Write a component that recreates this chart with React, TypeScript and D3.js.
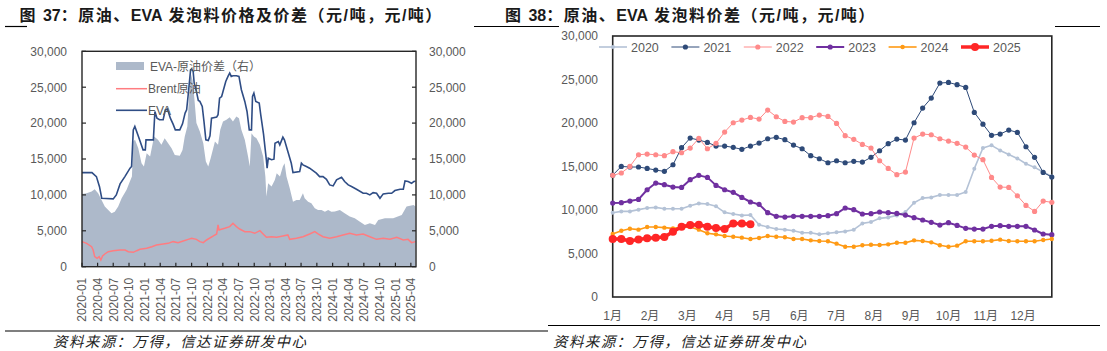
import * as d3 from "d3";
import { useEffect, useRef } from "react";

type Pt = [string, number];

// ---- Figure 37: daily EVA price, Brent (CNY/t) and spread ----
const evaPrice: Pt[] = [
  ["2020-01-01", 13100], ["2020-02-28", 13100], ["2020-03-25", 12550], ["2020-04-12", 11150],
  ["2020-04-25", 9530], ["2020-05-20", 9500], ["2020-07-01", 9440], ["2020-07-19", 10000],
  ["2020-08-10", 11530], ["2020-09-07", 12550], ["2020-10-07", 13720], ["2020-10-16", 13950],
  ["2020-10-26", 19060], ["2020-11-04", 19530], ["2020-11-25", 18130], ["2020-12-22", 16270],
  ["2021-01-04", 16270], ["2021-01-08", 17670], ["2021-02-20", 17670], ["2021-03-01", 21620],
  ["2021-03-13", 20690], ["2021-03-28", 20460], ["2021-04-18", 20460], ["2021-05-01", 21850],
  ["2021-05-13", 21950], ["2021-05-30", 20690], ["2021-06-15", 19850], ["2021-06-28", 19060],
  ["2021-07-24", 19060], ["2021-08-09", 19900], ["2021-08-24", 21390], ["2021-09-02", 21850],
  ["2021-09-11", 23950], ["2021-09-25", 27440], ["2021-10-01", 27530], ["2021-10-10", 27200],
  ["2021-10-16", 25570], ["2021-10-29", 24410], ["2021-11-09", 23160], ["2021-11-18", 23020],
  ["2021-12-02", 22320], ["2021-12-12", 20230], ["2021-12-23", 17670], ["2022-01-06", 17580],
  ["2022-01-16", 18230], ["2022-01-25", 20690], ["2022-02-24", 20830], ["2022-03-04", 21160],
  ["2022-03-13", 23480], ["2022-03-25", 23700], ["2022-04-02", 24400], ["2022-04-18", 25800],
  ["2022-05-01", 26500], ["2022-05-11", 26970], ["2022-05-20", 26500], ["2022-05-30", 26600],
  ["2022-06-19", 26600], ["2022-07-04", 26500], ["2022-07-18", 24650], ["2022-08-07", 23020],
  ["2022-08-20", 21620], ["2022-09-02", 19060], ["2022-09-15", 19060], ["2022-09-21", 23700],
  ["2022-09-29", 24180], ["2022-10-10", 23020], ["2022-10-30", 22800], ["2022-11-08", 21160],
  ["2022-11-24", 18500], ["2022-12-11", 14800], ["2022-12-15", 13720], ["2022-12-22", 15110],
  ["2023-01-10", 14900], ["2023-01-24", 14970], ["2023-01-30", 17200], ["2023-02-18", 17440],
  ["2023-02-27", 16970], ["2023-03-17", 18040], ["2023-03-26", 17670], ["2023-04-15", 16040],
  ["2023-05-05", 14410], ["2023-05-15", 13110], ["2023-06-23", 13250], ["2023-07-03", 14410],
  ["2023-07-12", 14180], ["2023-08-01", 13950], ["2023-08-20", 13720], ["2023-09-28", 13020],
  ["2023-10-17", 12550], ["2023-11-06", 12550], ["2023-11-26", 12180], ["2023-12-15", 11390],
  ["2024-01-04", 11250], ["2024-01-24", 12090], ["2024-02-22", 12460], ["2024-03-11", 11860],
  ["2024-04-01", 11390], ["2024-04-20", 11160], ["2024-05-19", 10790], ["2024-06-27", 10230],
  ["2024-07-16", 10230], ["2024-08-05", 10000], ["2024-08-24", 10320], ["2024-09-13", 10230],
  ["2024-10-03", 9530], ["2024-10-22", 10140], ["2024-11-21", 10230], ["2024-12-10", 10230],
  ["2024-12-29", 10600], ["2025-01-28", 10790], ["2025-02-16", 10790], ["2025-02-26", 11950],
  ["2025-03-16", 11860], ["2025-04-05", 11620], ["2025-04-18", 11860], ["2025-04-28", 11900],
];

const brentPrice: Pt[] = [
  ["2020-01-01", 3490], ["2020-01-28", 3250], ["2020-02-26", 2790], ["2020-03-06", 2320],
  ["2020-03-15", 1400], ["2020-03-29", 1160], ["2020-04-10", 1400], ["2020-04-20", 930],
  ["2020-04-30", 1490], ["2020-05-13", 1770], ["2020-06-02", 2090], ["2020-07-01", 2230],
  ["2020-08-09", 2320], ["2020-09-08", 2320], ["2020-09-27", 2090], ["2020-10-26", 2000],
  ["2020-11-15", 2230], ["2020-12-04", 2420], ["2021-01-12", 2560], ["2021-02-11", 2790],
  ["2021-03-10", 3020], ["2021-04-18", 3160], ["2021-05-17", 3250], ["2021-06-15", 3490],
  ["2021-07-14", 3350], ["2021-08-13", 3580], ["2021-09-11", 3810], ["2021-10-01", 3950],
  ["2021-10-29", 3810], ["2021-11-18", 3490], ["2021-12-08", 3350], ["2021-12-27", 3720],
  ["2022-02-05", 4280], ["2022-02-24", 4560], ["2022-03-04", 5810], ["2022-03-10", 5110],
  ["2022-03-23", 5210], ["2022-04-12", 5350], ["2022-05-11", 5580], ["2022-05-30", 6040],
  ["2022-06-19", 5580], ["2022-07-08", 5250], ["2022-08-07", 4880], ["2022-09-05", 4880],
  ["2022-10-04", 4650], ["2022-11-03", 5020], ["2022-11-22", 4560], ["2022-12-11", 4090],
  ["2023-01-10", 4180], ["2023-02-09", 4090], ["2023-03-17", 4280], ["2023-04-15", 4420],
  ["2023-04-26", 3810], ["2023-06-04", 3950], ["2023-07-12", 4180], ["2023-08-20", 4560],
  ["2023-09-19", 4880], ["2023-10-08", 4560], ["2023-11-06", 4180], ["2023-12-15", 3950],
  ["2024-01-24", 4180], ["2024-03-02", 4420], ["2024-04-10", 4650], ["2024-05-19", 4420],
  ["2024-06-27", 4560], ["2024-08-05", 4180], ["2024-09-13", 3810], ["2024-10-22", 3950],
  ["2024-11-30", 3810], ["2025-01-09", 4090], ["2025-02-16", 3720], ["2025-03-16", 3810],
  ["2025-04-05", 3350], ["2025-04-28", 3490],
];

const evaSpread: Pt[] = [
  ["2020-01-01", 10140], ["2020-01-28", 10230], ["2020-02-26", 10460], ["2020-03-15", 10790],
  ["2020-04-04", 10230], ["2020-04-24", 9300], ["2020-05-13", 8370], ["2020-06-02", 7900],
  ["2020-06-21", 7440], ["2020-07-10", 7670], ["2020-07-30", 8370], ["2020-08-19", 9530],
  ["2020-09-17", 10700], ["2020-10-06", 11860], ["2020-10-18", 12550], ["2020-10-26", 17440],
  ["2020-11-05", 17670], ["2020-11-24", 16510], ["2020-12-13", 14410], ["2020-12-27", 13950],
  ["2021-01-12", 15810], ["2021-02-01", 15340], ["2021-02-24", 18130], ["2021-03-19", 17670],
  ["2021-04-08", 16970], ["2021-04-27", 17900], ["2021-05-17", 17200], ["2021-06-06", 16510],
  ["2021-06-25", 15570], ["2021-07-24", 15440], ["2021-08-09", 16270], ["2021-08-22", 18130],
  ["2021-09-06", 19530], ["2021-09-15", 23250], ["2021-09-25", 26970], ["2021-10-06", 26040],
  ["2021-10-16", 23710], ["2021-10-29", 20000], ["2021-11-18", 18830], ["2021-12-08", 17200],
  ["2021-12-23", 14650], ["2022-01-06", 13950], ["2022-01-20", 15110], ["2022-02-14", 17440],
  ["2022-03-04", 16970], ["2022-03-17", 19060], ["2022-04-02", 20230], ["2022-04-22", 20460],
  ["2022-05-11", 20830], ["2022-05-30", 20230], ["2022-06-19", 20920], ["2022-07-04", 20690],
  ["2022-07-18", 19060], ["2022-08-07", 17670], ["2022-08-26", 15340], ["2022-09-05", 13950],
  ["2022-09-15", 18600], ["2022-09-29", 18130], ["2022-10-14", 17900], ["2022-11-03", 16970],
  ["2022-11-22", 15340], ["2022-12-05", 12550], ["2022-12-11", 9760], ["2022-12-21", 11620],
  ["2023-01-10", 11160], ["2023-01-29", 12090], ["2023-02-09", 13020], ["2023-02-28", 12550],
  ["2023-03-17", 13950], ["2023-03-27", 14410], ["2023-04-07", 12550], ["2023-04-26", 10930],
  ["2023-05-15", 9060], ["2023-06-04", 9300], ["2023-06-23", 9300], ["2023-07-12", 10230],
  ["2023-07-22", 9530], ["2023-08-11", 9060], ["2023-08-30", 8830], ["2023-09-19", 8140],
  ["2023-10-08", 7900], ["2023-10-28", 7900], ["2023-11-17", 7670], ["2023-12-06", 7900],
  ["2023-12-25", 7670], ["2024-01-14", 7700], ["2024-02-12", 7900], ["2024-03-11", 7440],
  ["2024-04-10", 6980], ["2024-05-09", 6740], ["2024-06-06", 6280], ["2024-07-07", 5810],
  ["2024-08-05", 6040], ["2024-09-04", 5810], ["2024-09-23", 6510], ["2024-11-01", 6740],
  ["2024-12-19", 6740], ["2025-02-07", 7210], ["2025-03-07", 8370], ["2025-04-17", 8600],
  ["2025-04-28", 8370],
];

const leftXTicks = [
  "2020-01", "2020-04", "2020-07", "2020-10", "2021-01", "2021-04", "2021-07", "2021-10",
  "2022-01", "2022-04", "2022-07", "2022-10", "2023-01", "2023-04", "2023-07", "2023-10",
  "2024-01", "2024-04", "2024-07", "2024-10", "2025-01", "2025-04",
];
const yTicks = [0, 5000, 10000, 15000, 20000, 25000, 30000];

// ---- Figure 38: weekly spread by year ----
const years = ["2020", "2021", "2022", "2023", "2024", "2025"];
const spread2020 = [
  9690, 9840, 9840, 10040, 10230, 10300, 10150, 10150, 10150, 10490,
  10760, 10690, 10420, 9730, 9540, 9380, 9420, 8310, 8040, 7810,
  7740, 7620, 7390, 7390, 7200, 7320, 7430, 7540, 7740, 8460,
  8620, 9040, 9150, 9380, 9770, 10840, 11370, 11450, 11720, 11720,
  11720, 12060, 14750, 17120, 17430, 16850, 16390, 15930, 15320, 14900,
  14360, 13860,
];
const spread2021 = [
  14000, 15010, 14940, 14940, 14780, 14590, 14440, 15200, 17160, 18270,
  18040, 17770, 17350, 17350, 17200, 16970, 17350, 17690, 18190, 18350,
  18080, 17460, 17040, 16240, 15890, 15430, 15660, 15430, 15590, 15510,
  16050, 16810, 17620, 18150, 18040, 20030, 21720, 22860, 24590, 24660,
  24400, 24090, 21220, 19870, 18580, 18730, 19190, 18920, 17270, 16050,
  14320, 13790,
];
const spread2022 = [
  13980, 14250, 15010, 16350, 16430, 16350, 16240, 16700, 16580, 17120,
  18230, 17040, 17660, 18960, 20030, 20340, 20640, 20450, 21490, 20720,
  20180, 20110, 20610, 20610, 20910, 20760, 19950, 18540, 18120, 17540,
  17120, 15660, 14780, 14060, 14360, 18270, 18730, 18650, 18190, 17920,
  17660, 17230, 16310, 15780, 13750, 12640, 12600, 11640, 10530, 9840,
  11030, 10880,
];
const spread2023 = [
  10800, 10840, 11030, 11220, 12330, 13100, 12910, 12640, 12600, 13480,
  13980, 13750, 12830, 12330, 12030, 11450, 10920, 10650, 9690, 9270,
  9190, 9270, 9270, 9270, 9270, 9350, 9580, 10230, 10040, 9540,
  9580, 9770, 9690, 9610, 9420, 9120, 8850, 8580, 8270, 8540,
  8230, 7890, 7810, 7810, 8120, 8200, 8120, 8120, 8120, 7700,
  7240, 7160,
];
const spread2024 = [
  7240, 7620, 7850, 7740, 8040, 8040, 7970, 7890, 8000, 8040,
  7740, 7320, 7200, 7010, 6930, 6820, 6660, 6780, 7010, 6930,
  6860, 6660, 6660, 6510, 6430, 6400, 6130, 5780, 5780, 5940,
  6010, 5970, 6050, 6240, 6240, 6510, 6430, 6280, 5940, 5780,
  5900, 6400, 6400, 6400, 6470, 6590, 6430, 6400, 6400, 6400,
  6550, 6660,
];
const spread2025 = [
  6660, 6660, 6430, 6620, 6740, 6820, 6890, 7510, 8080, 8270,
  8310, 8080, 7930, 7810, 8460, 8460, 8350,
];
const monthLabels = ["1月", "2月", "3月", "4月", "5月", "6月", "7月", "8月", "9月", "10月", "11月", "12月"];

const yearStyles = [
  { color: "#B4C2D6", width: 1.6, r: 2 },
  { color: "#2E4A78", width: 1, r: 2.6 },
  { color: "#FF8A8A", width: 1, r: 2.6 },
  { color: "#7030A0", width: 2, r: 2.6 },
  { color: "#FF9A14", width: 1.6, r: 2.2 },
  { color: "#FF2626", width: 3.5, r: 4 },
];

const W = 1107;
const H = 351;
const TEXT = "#595959";
const NUM_FONT = "'Liberation Sans', Arial, sans-serif";
const CJK_FONT = "'Liberation Sans', 'Noto Sans CJK SC', sans-serif";
const parse = d3.utcParse("%Y-%m-%d");

type Sel = d3.Selection<SVGSVGElement, unknown, null, undefined>;

function drawHeader(svg: Sel) {
  const titles = [
    { x: 19.5, text: "图 37：原油、EVA 发泡料价格及价差（元/吨，元/吨）" },
    { x: 505, text: "图 38：原油、EVA 发泡料价差（元/吨，元/吨）" },
  ];
  titles.forEach((t) => {
    const el = svg.append("text")
      .attr("x", t.x).attr("y", 20.5)
      .attr("font-family", CJK_FONT).attr("font-size", 16).attr("font-weight", "bold")
      .attr("fill", "#1a1a1a");
    // Latin runs stay tight, CJK runs get a little tracking like the original
    (t.text.match(/[A-Za-z0-9]+|[^A-Za-z0-9]+/g) ?? []).forEach((part) => {
      el.append("tspan")
        .attr("letter-spacing", /[A-Za-z0-9]/.test(part) ? 0 : 1.5)
        .text(part);
    });
  });
  // header rules (broken by the titles)
  [[5, 27], [474, 559], [1055, 1100]].forEach(([a, b]) => {
    svg.append("line").attr("x1", a).attr("x2", b).attr("y1", 26.5).attr("y2", 26.5)
      .attr("stroke", "#000").attr("stroke-width", 1.2);
  });
  // footers
  [{ a: 5, b: 548, y: 331, tx: 53 }, { a: 548, b: 1100, y: 325.5, tx: 553 }].forEach((f) => {
    svg.append("line").attr("x1", f.a).attr("x2", f.b).attr("y1", f.y).attr("y2", f.y)
      .attr("stroke", "#000").attr("stroke-width", 1.2);
    svg.append("text")
      .attr("x", f.tx).attr("y", 347)
      .attr("font-family", "'Noto Sans CJK SC', sans-serif").attr("font-size", 14.5)
      .attr("font-style", "italic").attr("letter-spacing", 1.4).attr("fill", "#222")
      .text("资料来源：万得，信达证券研发中心");
  });
}

function drawLeft(svg: Sel) {
  const left = 82, right = 416, top = 51.3, bottom = 266.7;
  const x = d3.scaleUtc().domain([parse("2020-01-01")!, parse("2025-05-01")!]).range([left, right]);
  const y = d3.scaleLinear().domain([0, 30000]).range([bottom, top]);
  const g = svg.append("g");

  const area = d3.area<Pt>().x((d) => x(parse(d[0])!)).y0(y(0)).y1((d) => y(d[1]));
  g.append("path").datum(evaSpread).attr("d", area).attr("fill", "#ADB9CA");

  const line = d3.line<Pt>().x((d) => x(parse(d[0])!)).y((d) => y(d[1]));
  g.append("path").datum(brentPrice).attr("d", line)
    .attr("fill", "none").attr("stroke", "#FF7C80").attr("stroke-width", 1.5);
  g.append("path").datum(evaPrice).attr("d", line)
    .attr("fill", "none").attr("stroke", "#2F4D85").attr("stroke-width", 1.6);

  g.append("rect").attr("x", left).attr("y", top).attr("width", right - left).attr("height", bottom - top)
    .attr("fill", "none").attr("stroke", "#262626").attr("stroke-width", 1.4);

  yTicks.forEach((v) => {
    g.append("line").attr("x1", left).attr("x2", left + 4).attr("y1", y(v)).attr("y2", y(v))
      .attr("stroke", "#262626").attr("stroke-width", 1.2);
    g.append("line").attr("x1", right - 4).attr("x2", right).attr("y1", y(v)).attr("y2", y(v))
      .attr("stroke", "#262626").attr("stroke-width", 1.2);
    const label = d3.format(",")(v);
    g.append("text").attr("x", 67).attr("y", y(v) + 4.3).attr("text-anchor", "end")
      .attr("font-family", NUM_FONT).attr("font-size", 12).attr("fill", TEXT).text(label);
    g.append("text").attr("x", 429).attr("y", y(v) + 4.3).attr("text-anchor", "start")
      .attr("font-family", NUM_FONT).attr("font-size", 12).attr("fill", TEXT).text(label);
  });

  leftXTicks.forEach((t) => {
    const tx = x(parse(t + "-01")!);
    g.append("line").attr("x1", tx).attr("x2", tx).attr("y1", bottom).attr("y2", bottom - 4)
      .attr("stroke", "#262626").attr("stroke-width", 1.2);
    g.append("text")
      .attr("transform", `translate(${tx + 4.3},${bottom + 11}) rotate(-90)`)
      .attr("text-anchor", "end")
      .attr("font-family", NUM_FONT).attr("font-size", 12).attr("fill", TEXT).text(t);
  });

  // legend
  g.append("rect").attr("x", 116).attr("y", 62).attr("width", 28).attr("height", 8).attr("fill", "#ADB9CA");
  g.append("text").attr("x", 150).attr("y", 70.5).attr("font-family", CJK_FONT).attr("font-size", 12)
    .attr("fill", TEXT).text("EVA-原油价差（右）");
  g.append("line").attr("x1", 116).attr("x2", 147).attr("y1", 88.7).attr("y2", 88.7)
    .attr("stroke", "#FF7C80").attr("stroke-width", 1.5);
  g.append("text").attr("x", 148).attr("y", 93).attr("font-family", CJK_FONT).attr("font-size", 12)
    .attr("fill", TEXT).text("Brent原油");
  g.append("line").attr("x1", 116).attr("x2", 147).attr("y1", 110.3).attr("y2", 110.3)
    .attr("stroke", "#2F4D85").attr("stroke-width", 1.6);
  g.append("text").attr("x", 148).attr("y", 114.6).attr("font-family", CJK_FONT).attr("font-size", 12)
    .attr("fill", TEXT).text("EVA");
}

function drawRight(svg: Sel) {
  const left = 612.7, right = 1051.8, top = 36, bottom = 297;
  const x = d3.scaleLinear().domain([0, 51]).range([left, right]);
  const y = d3.scaleLinear().domain([0, 30000]).range([bottom, top]);
  const g = svg.append("g");
  const series = [spread2020, spread2021, spread2022, spread2023, spread2024, spread2025];

  g.append("rect").attr("x", left).attr("y", top).attr("width", right - left).attr("height", bottom - top)
    .attr("fill", "none").attr("stroke", "#262626").attr("stroke-width", 1.6);

  yTicks.forEach((v) => {
    g.append("text").attr("x", 598).attr("y", y(v) + 4.3).attr("text-anchor", "end")
      .attr("font-family", NUM_FONT).attr("font-size", 12).attr("fill", TEXT).text(d3.format(",")(v));
  });

  monthLabels.forEach((m, i) => {
    g.append("text").attr("x", x((i * 52) / 12)).attr("y", 319.5).attr("text-anchor", "middle")
      .attr("font-family", CJK_FONT).attr("font-size", 12).attr("fill", TEXT).text(m);
  });

  const line = d3.line<number>().x((_, i) => x(i)).y((d) => y(d));
  series.forEach((vals, k) => {
    const s = yearStyles[k];
    g.append("path").datum(vals).attr("d", line)
      .attr("fill", "none").attr("stroke", s.color).attr("stroke-width", s.width)
      .attr("stroke-linejoin", "round");
    g.selectAll(null).data(vals).enter().append("circle")
      .attr("cx", (_, i) => x(i)).attr("cy", (d) => y(d)).attr("r", s.r).attr("fill", s.color);
  });

  // legend across the top
  years.forEach((yr, k) => {
    const s = yearStyles[k];
    const lx = 599 + k * 72.4;
    g.append("line").attr("x1", lx).attr("x2", lx + 28).attr("y1", 47).attr("y2", 47)
      .attr("stroke", s.color).attr("stroke-width", s.width);
    g.append("circle").attr("cx", lx + 14).attr("cy", 47).attr("r", s.r).attr("fill", s.color);
    g.append("text").attr("x", lx + 32).attr("y", 51.5).attr("font-family", NUM_FONT)
      .attr("font-size", 12.5).attr("fill", TEXT).text(yr);
  });
}

export default function App() {
  const svgRef = useRef<SVGSVGElement>(null);

  useEffect(() => {
    if (!svgRef.current) return;
    const svg = d3.select(svgRef.current);
    svg.selectAll("*").remove();
    drawHeader(svg);
    drawLeft(svg);
    drawRight(svg);
  }, []);

  return (
    <svg
      ref={svgRef}
      width={W}
      height={H}
      viewBox={`0 0 ${W} ${H}`}
      style={{ position: "absolute", left: 0, top: 0, background: "#fff", display: "block" }}
    />
  );
}
